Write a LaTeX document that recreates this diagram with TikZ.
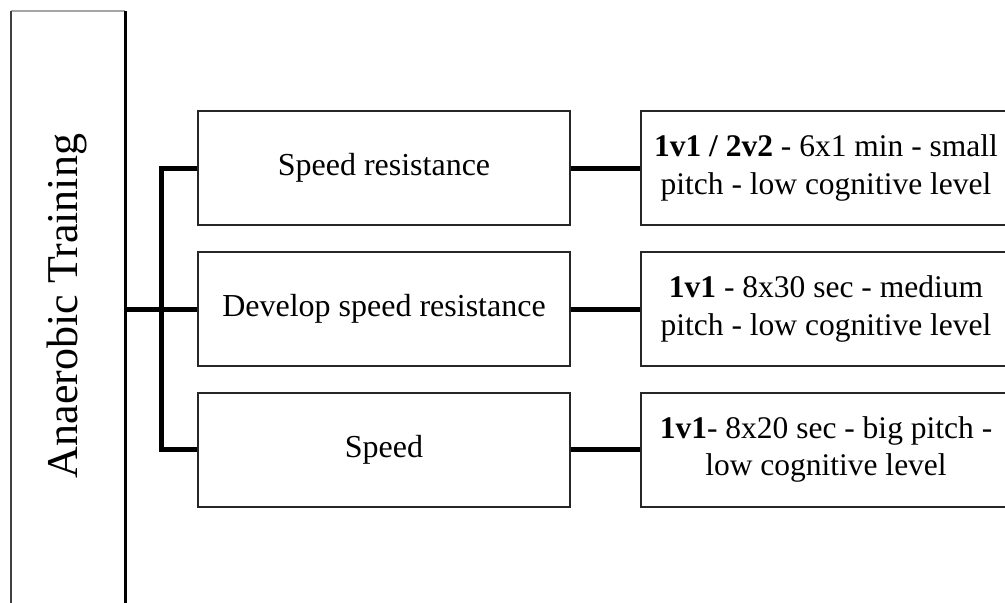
\documentclass[tikz,border=0pt]{standalone}
\usepackage{fontspec}
\setmainfont{Liberation Serif}
\begin{document}
\begin{tikzpicture}[x=1pt,y=-1pt,
  midbox/.style={draw=black!85, line width=2pt, minimum width=372pt, minimum height=114pt, inner sep=0pt, font=\fontsize{32}{37}\selectfont, align=center},
  rightbox/.style={draw=black!85, line width=2pt, minimum width=370pt, minimum height=114pt, inner sep=0pt, font=\fontsize{31.5}{37.5}\selectfont, align=center},
  conn/.style={draw=black, line width=5pt},
  edge/.style={draw=black!85, line width=2.5pt}]
\path[use as bounding box] (0,0) rectangle (1005,603);
\clip (0,0) rectangle (1005,603);
% left box
\node[minimum width=114pt, minimum height=640pt, inner sep=0pt, anchor=north] (main) at (68,11) {};
\draw[black!35, line width=1.5pt] (main.north west) -- (main.north east);
\draw[edge, black!75, line width=2pt] (main.north west) -- (main.south west);
\draw[edge, black, line width=3pt] (main.north east) -- (main.south east);
\node[rotate=90, font=\fontsize{44}{48}\selectfont, inner sep=0pt] (title) at (67,306) {Anaerobic Training};
% middle boxes
\node[midbox] (b1) at (384,168) {Speed resistance};
\node[midbox] (b2) at (384,309) {Develop speed resistance};
\node[midbox] (b3) at (384,449.5) {Speed};
% right boxes
\node[rightbox] (r1) at (826,168) {\textbf{1v1 / 2v2} - 6x1 min - small\\pitch - low cognitive level};
\node[rightbox] (r2) at (826,309) {\textbf{1v1} - 8x30 sec - medium\\pitch - low cognitive level};
\node[rightbox] (r3) at (826,449.5) {\textbf{1v1}- 8x20 sec - big pitch -\\low cognitive level};
% connectors
\coordinate (sp) at (161,0);
\draw[conn] (main.east |- b2.west) -- (b2.west);
\draw[conn] (b1.west) -- (sp |- b1.west) -- (sp |- b3.west) -- (b3.west);
\draw[conn] (b1.east) -- (r1.west);
\draw[conn] (b2.east) -- (r2.west);
\draw[conn] (b3.east) -- (r3.west);
\end{tikzpicture}
\end{document}
